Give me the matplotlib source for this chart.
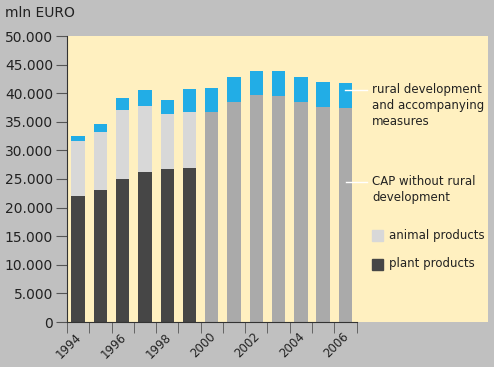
import numpy as np
import matplotlib.pyplot as plt
from matplotlib.transforms import ScaledTranslation

# values in mln EURO
years = list(range(1994, 2007))
early_years = years[:6]      # 1994-1999: split by product
late_years = years[6:]       # 2000-2006: CAP + rural development
plant = [22000, 23100, 25000, 26300, 26700, 27000]
animal = [9700, 10200, 12100, 11500, 9700, 9700]
rural_early = [800, 1300, 2000, 2700, 2400, 4100]
cap = [36700, 38500, 39600, 39500, 38500, 37600, 37400]
rural_late = [4200, 4300, 4300, 4300, 4300, 4400, 4300]

tick_labels = ['1994', '1996', '1998', '2000', '2002', '2004', '2006']

bg = '#c0c0c0'
panel = '#fff0c0'
c_plant = '#464646'
c_animal = '#d8d8d8'
c_cap = '#aaaaaa'
c_rural = '#22ade6'

fig = plt.figure(figsize=(4.94, 3.67), dpi=100, facecolor=bg)
ax = fig.add_axes([67/494, 45/367, 421/494, 286/367])
ax.set_facecolor(panel)

xe = np.arange(len(early_years))
xl = np.arange(len(early_years), len(years))
w = 0.6
ax.bar(xe, plant, w, color=c_plant)
ax.bar(xe, animal, w, bottom=plant, color=c_animal)
ax.bar(xe, rural_early, w, bottom=np.add(plant, animal), color=c_rural)
ax.bar(xl, cap, w, color=c_cap)
ax.bar(xl, rural_late, w, bottom=cap, color=c_rural)

ax.set_xlim(-0.5, 18.4)
ax.set_ylim(0, 50000)
for s in ['top', 'right']:
    ax.spines[s].set_visible(False)
ax.spines['bottom'].set_bounds(-0.5, len(years) - 0.5)
ax.spines['left'].set_color('#333333')
ax.spines['bottom'].set_color('#333333')

yt = np.arange(0, 50001, 5000)
ax.set_yticks(yt)
ax.set_yticklabels(['0'] + ['{:,}'.format(v).replace(',', '.') for v in yt[1:]])
ax.tick_params(axis='y', length=8, color='#555555', labelsize=10, labelcolor='#222222', pad=2)

ax.set_xticks(np.arange(-0.5, len(years)), minor=True)
ax.set_xticks(np.arange(0, len(years), 2))
ax.set_xticklabels(tick_labels, rotation=45, ha='right', va='top')
ax.tick_params(axis='x', which='minor', length=8, color='#555555')
ax.tick_params(axis='x', which='major', length=0, labelsize=8.5, labelcolor='#222222', pad=6)
off = ScaledTranslation(4.5/72, 0, fig.dpi_scale_trans)
for lab in ax.get_xticklabels():
    lab.set_transform(lab.get_transform() + off)

fig.text(5/494, 1 - 13/367, 'mln EURO', fontsize=10, color='#222222', va='center', ha='left')

# legend-like annotations
def px(x, y):
    return x / 494, 1 - y / 367

fig.add_artist(plt.Line2D([345/494, 367/494], [1 - 90/367] * 2, color='white', lw=1))
fig.add_artist(plt.Line2D([346/494, 367/494], [1 - 182/367] * 2, color='white', lw=1))
fig.text(*px(372, 83), 'rural development\nand accompanying\nmeasures', fontsize=8.5,
         va='top', ha='left', color='#222222', linespacing=1.3)
fig.text(*px(372, 175), 'CAP without rural\ndevelopment', fontsize=8.5,
         va='top', ha='left', color='#222222', linespacing=1.3)
fig.patches.append(plt.Rectangle(px(372, 241), 11/494, 11/367, color=c_animal,
                                 transform=fig.transFigure))
fig.patches.append(plt.Rectangle(px(372, 270), 11/494, 11/367, color=c_plant,
                                 transform=fig.transFigure))
fig.text(*px(389, 235), 'animal products', fontsize=8.5, va='center', ha='left', color='#222222')
fig.text(*px(389, 264), 'plant products', fontsize=8.5, va='center', ha='left', color='#222222')

fig.savefig('out.png', dpi=100, facecolor=bg)
